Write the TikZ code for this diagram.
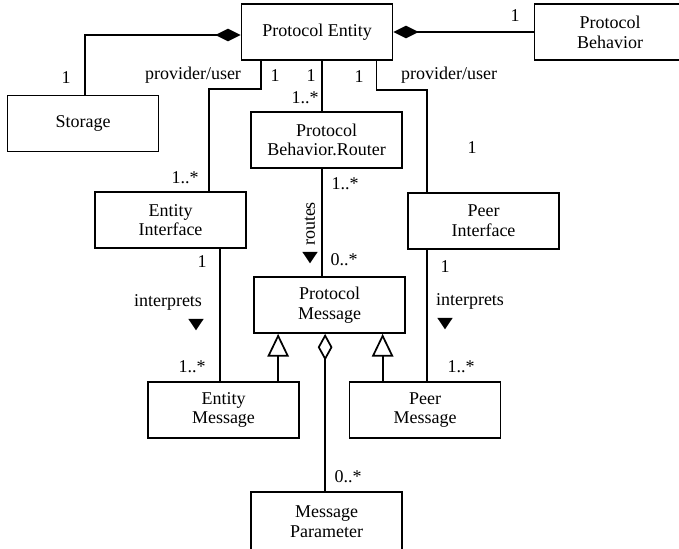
\documentclass[tikz,border=0pt]{standalone}
\usepackage{fontspec}
\setmainfont{Liberation Serif}
\newfontfamily\umlfont{Liberation Serif}
\usetikzlibrary{arrows.meta,calc,shapes.geometric}

\tikzset{
  cls/.style={draw, line width=1.3pt, fill=white, minimum width=151*0.75pt,
    minimum height=56*0.75pt, inner sep=0pt, align=center,
    font=\umlfont\fontsize{13.5}{14.8}\selectfont},
  lbl/.style={inner sep=0pt, font=\umlfont\fontsize{13.5}{14.8}\selectfont},
  link/.style={line width=1.3pt},
  comp/.style={link, {Diamond[length=19pt, width=9.5pt]}-},
  aggr/.style={link, {Diamond[open, length=20pt, width=11pt, fill=white]}-},
  inh/.style={link, -{Triangle[open, length=17pt, width=16pt, fill=white]}},
  dirtri/.style={fill=black, draw=none, isosceles triangle, isosceles triangle apex angle=68,
    minimum height=8.5pt, inner sep=0pt, shape border rotate=-90},
}

\begin{document}
\begin{tikzpicture}[x=0.75pt, y=-0.75pt]
  \useasboundingbox (0,0) rectangle (679,549);
  \clip (0,0) rectangle (679,549);

  % classes
  \node[cls] (pe)   at (317,32)    {Protocol Entity};
  \node[cls] (pb)   at (610,32)    {Protocol\\Behavior};
  \node[cls] (st)   at (83,123.5)  {Storage};
  \node[cls] (rt)   at (326.5,140) {Protocol\\Behavior.Router};
  \node[cls] (ei)   at (170.5,220) {Entity\\Interface};
  \node[cls] (pi)   at (483.5,221) {Peer\\Interface};
  \node[cls] (pm)   at (329.5,305) {Protocol\\Message};
  \node[cls] (em)   at (223.5,410) {Entity\\Message};
  \node[cls] (pmsg) at (425,410)   {Peer\\Message};
  \node[cls, minimum height=60*0.75pt] (mp) at (326.5,522) {Message\\Parameter};

  % composition
  \draw[comp] ([yshift=-2.25pt]pe.west) -| ([xshift=1.5pt]st.north);
  \draw[comp] (pe.east) -- (pb.west);

  % provider/user associations
  \draw[link] ($(pe.south west)+(20,0)$) -- ++(0,28) -| ($(ei.north west)+(115,0)$);
  \draw[link] ($(pe.south east)+(-17,0)$) -- ++(0,29) -| ($(pi.north west)+(20,0)$);

  % router
  \coordinate (rtop) at ($(rt.north west)+(71.5,0)$);
  \draw[link] (rtop |- pe.south) -- (rtop);
  \coordinate (rbot) at ($(rt.south west)+(71.5,0)$);
  \draw[link] (rbot) -- (rbot |- pm.north);

  % interprets
  \coordinate (eil) at ($(ei.south west)+(126,0)$);
  \draw[link] (eil) -- (eil |- em.north);
  \coordinate (pil) at ($(pi.south west)+(20,0)$);
  \draw[link] (pil) -- (pil |- pmsg.north);

  % generalisation
  \coordinate (emg) at ($(em.north west)+(131,0)$);
  \draw[inh] (emg) -- (emg |- pm.south);
  \coordinate (pmg) at ($(pmsg.north west)+(34,0)$);
  \draw[inh] (pmg) -- (pmg |- pm.south);

  % aggregation
  \coordinate (agg) at ($(pm.south west)+(72,0)$);
  \draw[aggr] (agg) -- (agg |- mp.north);

  % multiplicities and roles
  \node[lbl] (m1)  at (66,78)   {1};
  \node[lbl] (pu1) at (193,75)  {provider/user};
  \node[lbl] (m2)  at (275,76)  {1};
  \node[lbl] (m3)  at (311,76)  {1};
  \node[lbl] (m4)  at (305,98)  {1..*};
  \node[lbl] (m5)  at (359,77)  {1};
  \node[lbl] (pu2) at (449,75)  {provider/user};
  \node[lbl] (m6)  at (515,16)  {1};
  \node[lbl] (m7)  at (472,148) {1};
  \node[lbl] (m8)  at (185,178) {1..*};
  \node[lbl] (m9)  at (345,184) {1..*};
  \node[lbl, rotate=90] (rl) at (310,224) {routes};
  \node[dirtri] (rtri) at (310,256) {};
  \node[lbl] (m10) at (344,260) {0..*};
  \node[lbl] (m11) at (202,262) {1};
  \node[lbl] (ip1) at (168,302) {interprets};
  \node[dirtri] (itri1) at (196,323) {};
  \node[lbl] (m12) at (445,267) {1};
  \node[lbl] (ip2) at (470,301) {interprets};
  \node[dirtri] (itri2) at (445,322) {};
  \node[lbl] (m13) at (192,367) {1..*};
  \node[lbl] (m14) at (461,367) {1..*};
  \node[lbl] (m15) at (348,477) {0..*};
\end{tikzpicture}
\end{document}
